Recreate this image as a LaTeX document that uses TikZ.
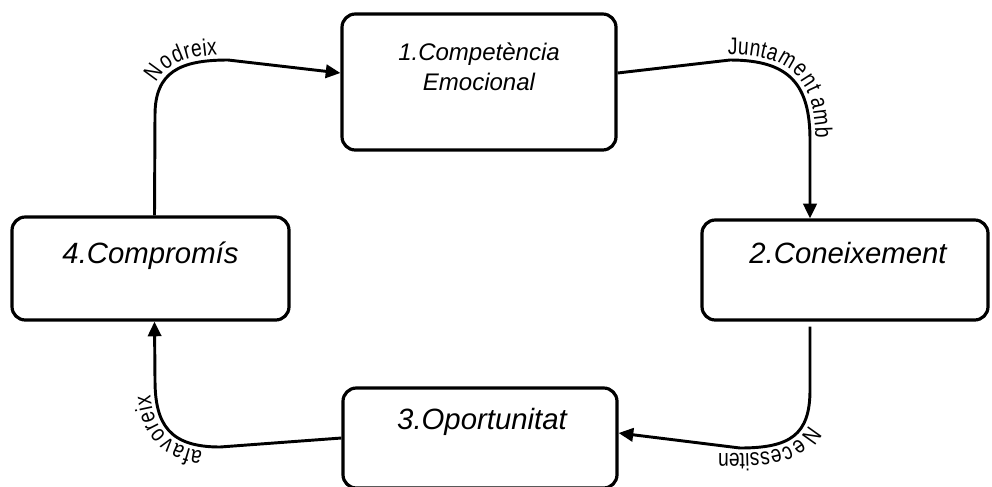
\documentclass[tikz,border=0pt]{standalone}
\usepackage{fontspec}
\setmainfont{Liberation Sans}
\newfontfamily\lblfamily[FakeStretch=0.8]{Liberation Sans}
\usetikzlibrary{arrows.meta,calc,decorations.text}

\newcommand{\lblfont}{\lblfamily\fontsize{18}{21}\selectfont}

\begin{document}
\begin{tikzpicture}[
    x=0.75pt, y=-0.75pt,
    stagebox/.style={rectangle, draw, rounded corners=10pt, line width=2.4pt},
    stagetext/.style={font=\fontsize{22}{26}\selectfont\itshape, align=center},
    flow/.style={-{Triangle[length=11pt, width=10pt]}, line width=2.2pt},
    along/.style={decorate, decoration={text along path, text align=center, raise=4pt, text={|\lblfont|#1}}}
]
\useasboundingbox (0,0) rectangle (992,486);
\clip (0,0) rectangle (992,486);

% stages
\node[stagebox, minimum width=205.5pt, minimum height=102pt] (b1) at (479,82) {};
\node[stagebox, minimum width=214.5pt, minimum height=75pt] (b2) at (845,270) {};
\node[stagebox, minimum width=205.5pt, minimum height=75pt] (b3) at (480,438) {};
\node[stagebox, minimum width=207.75pt, minimum height=77.25pt] (b4) at (150.5,268.5) {};

\node[stagetext, font=\fontsize{18}{22.5}\selectfont\itshape] (t1) at ($(b1.center)+(0,-15)$) {1.Competència\\Emocional};
\node[stagetext] (t2) at ($(b2.center)+(3,-17)$) {2.Coneixement};
\node[stagetext] (t3) at ($(b3.center)+(2,-16)$) {3.Oportunitat};
\node[stagetext] (t4) at ($(b4.center)+(0,-13)$) {4.Compromís};

% cycle
\draw[flow] ($(b4.north)+(4,0)$) -- (155,115) .. controls (155,72) and (180,60) .. (228,60) -- ($(b1.west)+(0,-9)$);
\draw[flow] ($(b1.east)+(0,-9)$) -- (730,60) .. controls (790,60) and (810,85) .. (810,140) -- ($(b2.north)+(-35,0)$);
\draw[flow] ($(b2.south)+(-35,5)$) -- (810,390) .. controls (810,435) and (790,448) .. (740,448) -- ($(b3.east)+(0,-5)$);
\draw[flow] (b3.west) -- (220,447) .. controls (170,447) and (155,425) .. (155,380) -- ($(b4.south)+(4,0)$);

% labels
\path[along=Nodreix] (155,130) -- (155,115) .. controls (155,72) and (180,60) .. (228,60) -- (262,63);
\path[along=Juntament amb] (724,61) -- (730,60) .. controls (790,60) and (810,85) .. (810,140) -- (810,142);
\path[along=Necessiten] (810,385) -- (810,390) .. controls (810,435) and (790,448) .. (740,448) -- (680,448);
\path[along=afavoreix] (234,446) -- (220,447) .. controls (170,447) and (155,425) .. (155,380) -- (155,364);
\end{tikzpicture}
\end{document}
